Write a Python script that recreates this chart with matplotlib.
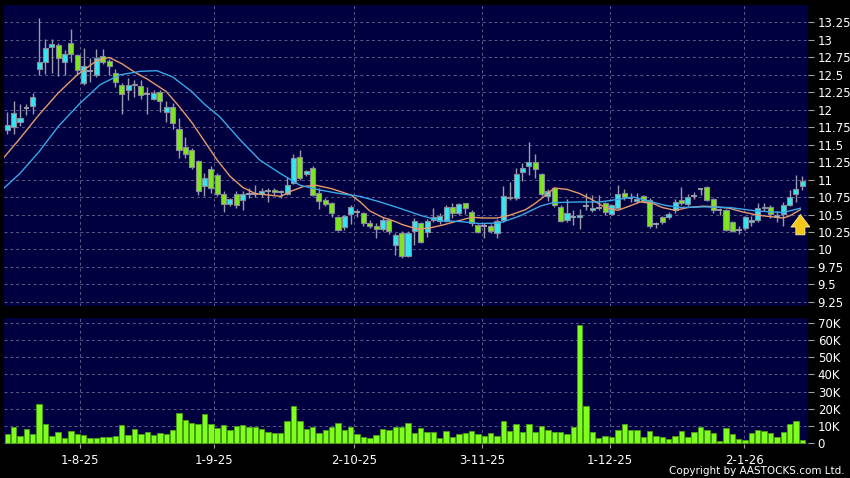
import numpy as np
import matplotlib.pyplot as plt

# daily candles, index 0 = first trading day shown
opens = [11.71, 11.76, 11.82, 12.02, 12.06, 12.59, 12.69, 12.90, 12.93, 12.68,
         12.95, 12.79, 12.39, 12.56, 12.50, 12.77, 12.70, 12.52, 12.36, 12.29,
         12.37, 12.34, 12.23, 12.16, 12.26, 11.97, 12.04, 11.73, 11.47, 11.42,
         11.26, 10.91, 11.15, 11.07, 10.79, 10.65, 10.79, 10.71, 10.79, 10.79,
         10.79, 10.83, 10.85, 10.82, 10.80, 10.95, 11.32, 11.08, 11.17, 10.81,
         10.71, 10.66, 10.46, 10.32, 10.51, 10.54, 10.52, 10.38, 10.33, 10.29,
         10.42, 10.06, 10.24, 9.91, 10.27, 10.38, 10.25, 10.42, 10.41, 10.41,
         10.61, 10.52, 10.66, 10.53, 10.35, 10.33, 10.33, 10.23, 10.42, 10.75,
         10.73, 11.11, 11.19, 11.25, 11.08, 10.76, 10.88, 10.61, 10.42, 10.46,
         10.46, 10.62, 10.57, 10.60, 10.66, 10.51, 10.60, 10.81, 10.73, 10.69,
         10.76, 10.71, 10.36, 10.46, 10.46, 10.56, 10.71, 10.65, 10.77, 10.86,
         10.89, 10.72, 10.57, 10.56, 10.39, 10.28, 10.30, 10.39, 10.42, 10.61,
         10.61, 10.46, 10.51, 10.64, 10.79, 10.91]
highs = [11.97, 12.13, 12.08, 12.08, 12.24, 13.31, 13.01, 13.01, 12.95, 12.86,
         13.16, 12.80, 12.88, 12.74, 12.87, 12.87, 12.72, 12.59, 12.38, 12.46,
         12.43, 12.43, 12.33, 12.28, 12.28, 12.12, 12.10, 11.88, 11.61, 11.45,
         11.28, 11.09, 11.19, 11.10, 10.83, 10.74, 10.83, 10.83, 10.88, 10.92,
         10.88, 10.88, 10.88, 10.85, 11.04, 11.37, 11.42, 11.14, 11.19, 10.88,
         10.73, 10.68, 10.48, 10.50, 10.64, 10.58, 10.54, 10.42, 10.38, 10.46,
         10.45, 10.24, 10.27, 10.26, 10.45, 10.40, 10.43, 10.59, 10.52, 10.63,
         10.66, 10.67, 10.67, 10.57, 10.37, 10.38, 10.36, 10.43, 10.91, 10.96,
         11.16, 11.24, 11.54, 11.37, 11.10, 10.86, 10.90, 10.63, 10.72, 10.56,
         10.58, 10.81, 10.78, 10.78, 10.68, 10.65, 10.92, 10.86, 10.81, 10.81,
         10.78, 10.73, 10.39, 10.48, 10.53, 10.72, 10.90, 10.80, 10.82, 10.88,
         10.91, 10.74, 10.60, 10.58, 10.41, 10.33, 10.48, 10.48, 10.66, 10.66,
         10.63, 10.55, 10.68, 10.85, 11.07, 11.05]
lows = [11.66, 11.66, 11.77, 11.93, 11.94, 12.50, 12.51, 12.52, 12.49, 12.50,
        12.69, 12.50, 12.36, 12.40, 12.47, 12.66, 12.50, 12.32, 11.94, 12.14,
        12.19, 12.15, 11.94, 12.14, 11.97, 11.82, 11.73, 11.31, 11.31, 11.15,
        10.78, 10.76, 10.81, 10.76, 10.54, 10.62, 10.59, 10.56, 10.74, 10.75,
        10.75, 10.68, 10.78, 10.73, 10.78, 10.93, 10.99, 11.05, 10.76, 10.58,
        10.62, 10.46, 10.26, 10.28, 10.37, 10.46, 10.34, 10.31, 10.16, 10.27,
        10.22, 9.92, 9.88, 9.89, 10.06, 10.09, 10.18, 10.40, 10.36, 10.39,
        10.45, 10.50, 10.51, 10.33, 10.23, 10.16, 10.24, 10.16, 10.40, 10.71,
        10.71, 10.98, 11.07, 11.02, 10.77, 10.70, 10.61, 10.40, 10.40, 10.35,
        10.29, 10.56, 10.53, 10.56, 10.50, 10.49, 10.58, 10.71, 10.68, 10.66,
        10.68, 10.31, 10.31, 10.36, 10.44, 10.52, 10.64, 10.62, 10.72, 10.78,
        10.70, 10.52, 10.50, 10.27, 10.25, 10.22, 10.28, 10.33, 10.40, 10.55,
        10.45, 10.40, 10.33, 10.62, 10.68, 10.85]
closes = [11.78, 11.96, 11.88, 12.02, 12.19, 12.69, 12.89, 12.94, 12.74, 12.80,
          12.80, 12.57, 12.62, 12.56, 12.74, 12.68, 12.62, 12.40, 12.22, 12.36,
          12.35, 12.21, 12.23, 12.24, 12.12, 12.04, 11.81, 11.43, 11.36, 11.18,
          10.84, 11.02, 10.88, 10.79, 10.65, 10.72, 10.63, 10.79, 10.79, 10.79,
          10.84, 10.83, 10.82, 10.82, 10.92, 11.31, 11.03, 11.12, 10.78, 10.70,
          10.65, 10.52, 10.28, 10.48, 10.61, 10.54, 10.38, 10.33, 10.29, 10.42,
          10.26, 10.20, 9.90, 10.24, 10.41, 10.11, 10.41, 10.46, 10.48, 10.61,
          10.52, 10.65, 10.59, 10.38, 10.25, 10.33, 10.27, 10.41, 10.77, 10.73,
          11.08, 11.17, 11.25, 11.15, 10.79, 10.83, 10.63, 10.41, 10.52, 10.46,
          10.50, 10.62, 10.60, 10.60, 10.53, 10.63, 10.79, 10.75, 10.73, 10.72,
          10.70, 10.34, 10.36, 10.39, 10.51, 10.68, 10.66, 10.75, 10.77, 10.86,
          10.71, 10.56, 10.57, 10.28, 10.26, 10.28, 10.46, 10.42, 10.60, 10.59,
          10.51, 10.49, 10.64, 10.75, 10.86, 10.98]
volumes_k = [5.4, 9.3, 4.2, 8.3, 5.4, 22.6, 11.2, 4.2, 6.4, 2.9,
             7.1, 5.4, 4.6, 2.9, 2.9, 3.9, 3.9, 4.4, 10.6, 4.8,
             8.1, 5.4, 6.6, 5.0, 5.8, 5.2, 7.7, 17.6, 13.5, 11.6,
             11.2, 17.0, 11.2, 8.9, 10.4, 7.7, 10.2, 10.6, 9.7, 9.7,
             8.3, 6.4, 6.0, 6.0, 12.9, 21.4, 13.1, 8.5, 9.5, 6.0,
             7.7, 9.7, 11.6, 7.7, 9.7, 5.4, 3.7, 3.1, 5.0, 8.3,
             7.9, 9.7, 9.7, 11.6, 6.2, 8.9, 6.4, 6.4, 2.9, 7.3,
             3.9, 5.4, 6.2, 7.3, 5.4, 4.2, 5.8, 4.4, 12.9, 7.3,
             11.0, 6.8, 11.4, 6.8, 10.0, 7.7, 6.6, 6.4, 5.2, 9.3,
             68.5, 21.8, 6.6, 3.3, 4.2, 3.5, 7.7, 11.0, 7.7, 7.7,
             3.9, 6.9, 4.1, 3.9, 2.3, 4.2, 7.3, 3.9, 6.4, 9.7,
             7.7, 5.8, 1.5, 8.7, 5.4, 2.3, 1.9, 6.0, 7.5, 6.9,
             5.8, 3.9, 6.6, 11.2, 12.9, 1.9]

# moving averages (candle index, price)
ma_short_idx = [-0.5, 2, 5, 8, 11, 14, 16, 18, 20, 22, 25, 27, 29, 31, 33, 35, 37,
                39, 41, 43, 44.5, 46.5, 48.5, 51, 54, 55.5, 57, 59, 61, 62, 64.5,
                66.5, 68.5, 70.5, 73, 75, 77, 79, 81.5, 83, 85, 86, 88, 90, 92, 94,
                96, 97.5, 99.5, 101.5, 103, 105, 107, 109.5, 111.5, 113.5, 115.5,
                118, 120, 122, 123, 124.7]
ma_short = [11.32, 11.59, 11.93, 12.24, 12.50, 12.70, 12.75, 12.66, 12.54, 12.44,
            12.26, 12.05, 11.82, 11.55, 11.28, 11.05, 10.89, 10.80, 10.78, 10.76,
            10.83, 10.90, 10.92, 10.87, 10.78, 10.68, 10.55, 10.46, 10.40, 10.36,
            10.29, 10.31, 10.35, 10.40, 10.46, 10.45, 10.45, 10.49, 10.57, 10.66,
            10.80, 10.88, 10.86, 10.80, 10.71, 10.60, 10.56, 10.61, 10.68, 10.66,
            10.60, 10.56, 10.60, 10.62, 10.61, 10.59, 10.54, 10.49, 10.47, 10.45,
            10.48, 10.57]
ma_long_idx = [-0.5, 2, 5, 8, 11.4, 14.6, 17.7, 20.9, 23.5, 26, 29, 31, 33.4, 36.6,
               39.7, 42.9, 46, 49.2, 52.3, 55.5, 58.6, 61.7, 64.9, 68, 71.2, 74.3,
               77.5, 80.6, 83.8, 85.8, 90, 93.2, 96.3, 98.5, 100.5, 103.5, 106,
               109.5, 113.6, 117.9, 122, 124.7]
ma_long = [10.88, 11.09, 11.40, 11.76, 12.09, 12.36, 12.50, 12.55, 12.56, 12.47,
           12.26, 12.08, 11.90, 11.57, 11.28, 11.09, 10.92, 10.85, 10.80, 10.76,
           10.68, 10.59, 10.49, 10.41, 10.40, 10.37, 10.38, 10.48, 10.62, 10.67,
           10.68, 10.68, 10.72, 10.75, 10.70, 10.63, 10.60, 10.61, 10.60, 10.55,
           10.53, 10.59]

date_labels = ['1-8-25', '1-9-25', '2-10-25', '3-11-25', '1-12-25', '2-1-26']
date_pos = [11.4, 32.5, 54.5, 74.6, 94.8, 115.9]
price_ticks = np.arange(9.25, 13.26, 0.25)
vol_ticks = [0, 10, 20, 30, 40, 50, 60, 70]

BG = '#000040'
GRID = '#5c5c86'
UP = '#33e6f0'
DOWN = '#7ce81c'
EDGE = '#8a8a9a'
WICK = '#9a9aaa'

plt.rcParams['font.family'] = ['DejaVu Sans']

fig = plt.figure(figsize=(8.5, 4.78), dpi=100, facecolor='black')
ax = fig.add_axes([0.0047, 0.3598, 0.9459, 0.6297], facecolor=BG)
axv = fig.add_axes([0.0047, 0.0711, 0.9459, 0.2636], facecolor=BG, sharex=ax)

o = np.array(opens)
h = np.array(highs)
l = np.array(lows)
c = np.array(closes)
x = np.arange(len(o))

# wicks
ax.vlines(x, l, h, color=WICK, lw=1, zorder=2)

body_lo = np.minimum(o, c)
body_hi = np.maximum(o, c)
is_doji = np.abs(c - o) < 0.005
cols = np.where(c >= o, UP, DOWN)
real = ~is_doji
ax.bar(x[real], (body_hi - body_lo)[real], bottom=body_lo[real], width=0.8,
       color=cols[real], edgecolor=EDGE, linewidth=0.8, zorder=3)
ax.hlines(c[is_doji], x[is_doji] - 0.45, x[is_doji] + 0.45, color=WICK,
          lw=1.4, zorder=3)

ax.plot(ma_short_idx, ma_short, color='#e89a6a', lw=1, zorder=4)
ax.plot(ma_long_idx, ma_long, color='#3aa8e8', lw=1, zorder=4)

# yellow arrow under the last candle
last = len(o) - 1
tip = ma_short[-1] - 0.03
ax.annotate('', xy=(last - 0.3, tip), xytext=(last - 0.3, tip - 0.37),
            arrowprops=dict(arrowstyle='simple,head_width=1.35,head_length=0.9,tail_width=0.65',
                            fc='#f5c518', ec='#fff2a0', lw=0.6), zorder=5)

# volume
axv.bar(x, volumes_k, width=0.85, color='#7fff1f', edgecolor='#4aa010',
        linewidth=0.6, zorder=3)

ax.set_xlim(-0.52, 125.9)
ax.set_ylim(9.19, 13.50)
axv.set_ylim(-0.4, 72.6)

for a in (ax, axv):
    for s in a.spines.values():
        s.set_visible(False)
    a.yaxis.tick_right()
    a.tick_params(axis='y', colors='#a0a0a0', labelcolor='white', length=4,
                  width=0.8, pad=3, labelsize=8.5)
    a.set_xticks(date_pos)
    a.grid(True, color=GRID, ls=(0, (3, 3)), lw=0.7, zorder=0)
    a.set_axisbelow(True)

ax.set_yticks(price_ticks)
ax.set_yticklabels([f'{v:g}' for v in price_ticks])
ax.tick_params(axis='x', length=0, labelbottom=False)

axv.set_yticks(vol_ticks)
axv.set_yticklabels([f'{v}K' if v else '0' for v in vol_ticks])
axv.set_xticklabels(date_labels)
axv.tick_params(axis='x', colors='#a0a0a0', labelcolor='white', length=3,
                labelsize=8.5, pad=4)

fig.text(0.994, 0.005, 'Copyright by AASTOCKS.com Ltd.', color='white',
         fontsize=7.5, ha='right', va='bottom')

fig.savefig('out.png', dpi=100, facecolor='black')
